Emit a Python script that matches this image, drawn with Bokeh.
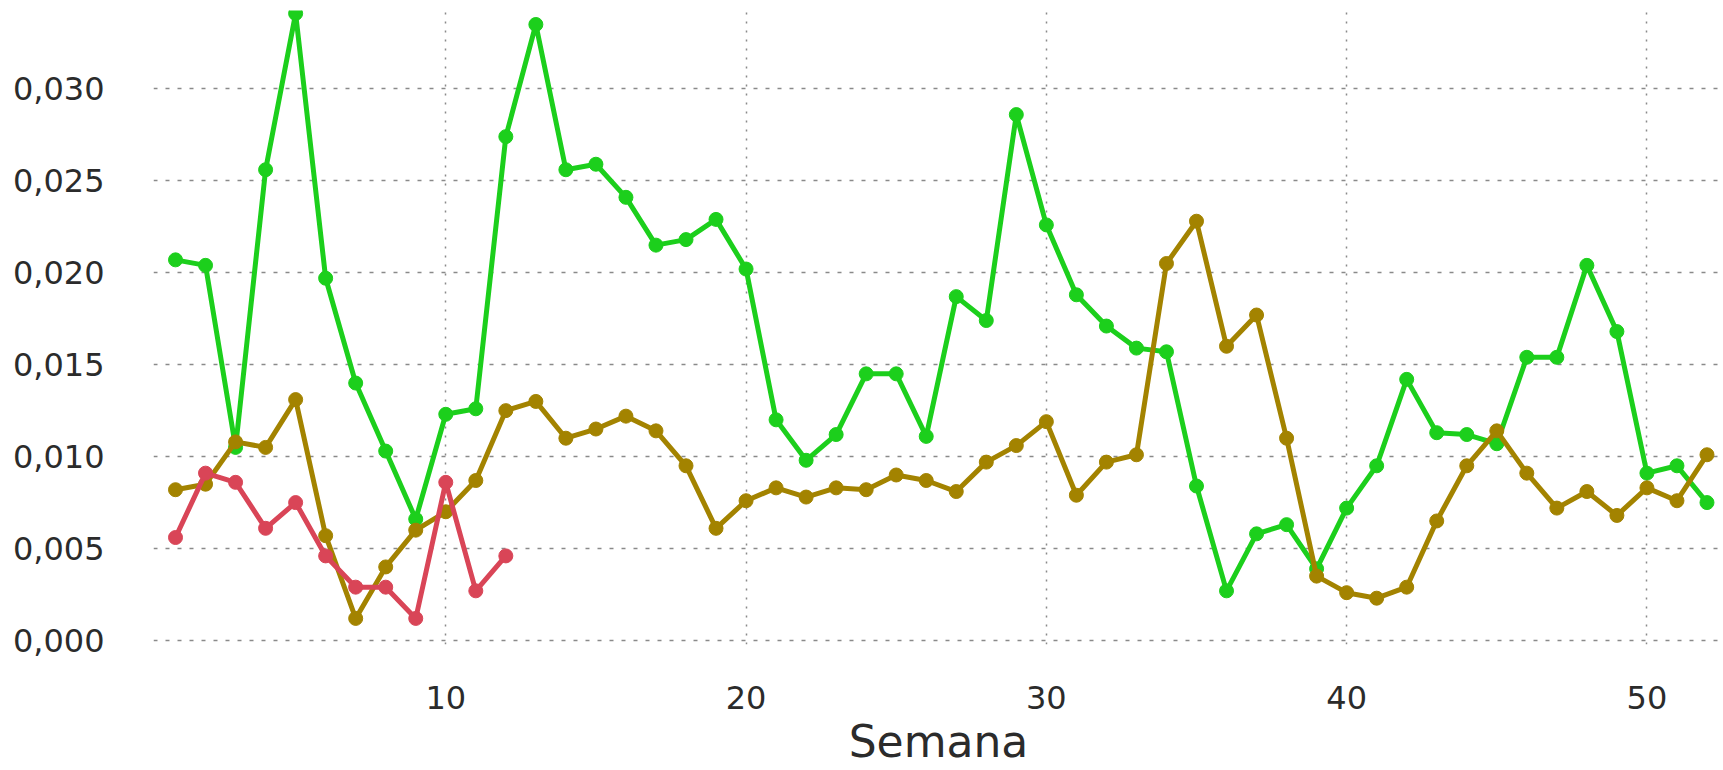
from bokeh.plotting import figure
from bokeh.models import FixedTicker, CustomJSTickFormatter, Range1d
from bokeh.embed import file_html
from bokeh.resources import INLINE

semanas = list(range(1, 53))

serie_verde = [0.0207, 0.0204, 0.0105, 0.0256, 0.0341, 0.0197, 0.0140, 0.0103, 0.0066, 0.0123,
               0.0126, 0.0274, 0.0335, 0.0256, 0.0259, 0.0241, 0.0215, 0.0218, 0.0229, 0.0202,
               0.0120, 0.0098, 0.0112, 0.0145, 0.0145, 0.0111, 0.0187, 0.0174, 0.0286, 0.0226,
               0.0188, 0.0171, 0.0159, 0.0157, 0.0084, 0.0027, 0.0058, 0.0063, 0.0039, 0.0072,
               0.0095, 0.0142, 0.0113, 0.0112, 0.0107, 0.0154, 0.0154, 0.0204, 0.0168, 0.0091,
               0.0095, 0.0075]

serie_ocre = [0.0082, 0.0085, 0.0108, 0.0105, 0.0131, 0.0057, 0.0012, 0.0040, 0.0060, 0.0070,
              0.0087, 0.0125, 0.0130, 0.0110, 0.0115, 0.0122, 0.0114, 0.0095, 0.0061, 0.0076,
              0.0083, 0.0078, 0.0083, 0.0082, 0.0090, 0.0087, 0.0081, 0.0097, 0.0106, 0.0119,
              0.0079, 0.0097, 0.0101, 0.0205, 0.0228, 0.0160, 0.0177, 0.0110, 0.0035, 0.0026,
              0.0023, 0.0029, 0.0065, 0.0095, 0.0114, 0.0091, 0.0072, 0.0081, 0.0068, 0.0083,
              0.0076, 0.0101]

semanas_rojo = list(range(1, 13))
serie_roja = [0.0056, 0.0091, 0.0086, 0.0061, 0.0075, 0.0046, 0.0029, 0.0029, 0.0012, 0.0086,
              0.0027, 0.0046]

y_ticks = [0.0, 0.005, 0.010, 0.015, 0.020, 0.025, 0.030]
x_ticks = [10, 20, 30, 40, 50]

VERDE = "#1ccf1c"
OCRE = "#a38300"
ROJO = "#d94557"

FONT = "DejaVu Sans"

p = figure(width=1723, height=770, output_backend="svg", toolbar_location=None,
           x_range=Range1d(0.267, 52.55), y_range=Range1d(-0.000218, 0.03426),
           min_border_left=153, min_border_right=0, min_border_top=10, min_border_bottom=126)
p.outline_line_color = None
p.background_fill_color = "white"
p.border_fill_color = "white"

# grids
p.xgrid.ticker = FixedTicker(ticks=x_ticks)
p.ygrid.ticker = FixedTicker(ticks=y_ticks)
p.xgrid.grid_line_color = "#8a8a8a"
p.xgrid.grid_line_dash = "2 7"
p.xgrid.grid_line_width = 1.5
p.ygrid.grid_line_color = "#8a8a8a"
p.ygrid.grid_line_dash = "4 8"
p.ygrid.grid_line_width = 1.5

for s_x, s_y, c in [(semanas, serie_verde, VERDE), (semanas, serie_ocre, OCRE),
                    (semanas_rojo, serie_roja, ROJO)]:
    p.line(s_x, s_y, line_color=c, line_width=5)
    p.scatter(s_x, s_y, size=14, fill_color=c, line_color=c)

# axes
p.xaxis.ticker = FixedTicker(ticks=x_ticks)
p.yaxis.ticker = FixedTicker(ticks=y_ticks)
p.yaxis.formatter = CustomJSTickFormatter(code="return tick.toFixed(3).replace('.', ',');")
for ax in (p.xaxis[0], p.yaxis[0]):
    ax.axis_line_color = None
    ax.major_tick_line_color = None
    ax.minor_tick_line_color = None
    ax.major_tick_out = 0
    ax.major_tick_in = 0
    ax.minor_tick_out = 0
    ax.major_label_text_font = FONT
    ax.major_label_text_font_size = "32px"
    ax.major_label_text_color = "#2b2b2b"

p.yaxis.major_label_standoff = 49
p.xaxis.major_label_standoff = 41
p.xaxis.axis_label = "Semana"
p.xaxis.axis_label_text_font = FONT
p.xaxis.axis_label_text_font_size = "44px"
p.xaxis.axis_label_text_font_style = "normal"
p.xaxis.axis_label_text_color = "#2b2b2b"
p.xaxis.axis_label_standoff = 4

open("out.html", "w").write(file_html(p, INLINE))
